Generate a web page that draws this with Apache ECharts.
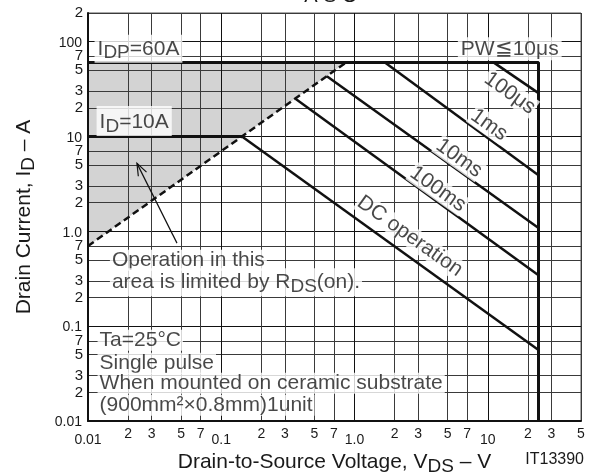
<!DOCTYPE html>
<html><head><meta charset="utf-8">
<script src="https://cdn.jsdelivr.net/npm/echarts@6/dist/echarts.min.js"></script>
<style>html,body{margin:0;padding:0;background:#fff}#c{width:601px;height:472px}</style>
</head><body><div id="c"></div>
<script>
// ---- data ----
const xTicks = [0.01,0.02,0.03,0.05,0.07,0.1,0.2,0.3,0.5,0.7,1,2,3,5,7,10,20,30,50];
const yTicks = [0.01,0.02,0.03,0.05,0.07,0.1,0.2,0.3,0.5,0.7,1,2,3,5,7,10,20,30,50,70,100,200];
const idpBoundary = [[0.01,60],[24,60],[24,0.01]];
const idLine = [[0.01,10],[0.143,10]];
const rdsLine = [[0.01,0.7],[0.86,60]];
const pw100us = [[11.1,60],[24,28.6]];
const pw1ms = [[1.69,60],[24,3.9]];
const pw10ms = [[0.62,43],[24,1.08]];
const pw100ms = [[0.36,25],[24,0.344]];
const dcLine = [[0.143,10],[24,0.056]];
const arrowLine = [[0.0465,0.75],[0.0233,5.2]];

// ---- chart ----
const FONT = 'Liberation Sans, Arial, sans-serif';
const TXT = '#1a1a1a';
function isDecade(v){ const l = Math.log10(v); return Math.abs(l - Math.round(l)) < 1e-6; }
function tickText(v){
  if (isDecade(v)) {
    if (v >= 10) return String(Math.round(v));
    if (Math.abs(v-1) < 1e-9) return '1.0';
    return String(+v.toPrecision(1));
  }
  return String(Math.round(v / Math.pow(10, Math.floor(Math.log10(v) + 1e-9))));
}
const chart = echarts.init(document.getElementById('c'), null, {renderer:'canvas'});
const sub = {fontSize:19, fontFamily:FONT, color:TXT, padding:[9,0,0,0]};
const ROT = -35.4;

function lineS(data, width, type){
  return {type:'line', data:data, symbol:'none', silent:true, z:5,
    lineStyle:{color:'#111', width:width, type:type || 'solid', cap:'butt'}};
}
function note(x, y, text, extra){
  return {value:[x,y], label:Object.assign({
    show:true, formatter:text, position:'right', distance:0,
    fontFamily:FONT, fontSize:21, color:TXT, backgroundColor:'#fff', padding:[1,3],
    rich:{s:sub}
  }, extra || {})};
}
const notes = [
  note(0.0112, 84, 'I{s|DP}=60A', {padding:[0,3,0,3]}),
  note(0.0116, 14.5, 'I{s|D}=10A', {padding:[2,3,0,3]}),
  note(14.6, 84, 'PW≦10μs', {position:'inside'}),
  note(14.6, 28.6, '100μs', {position:'inside', rotate:ROT, padding:[0,1]}),
  note(10.2, 13.2, '1ms', {position:'inside', rotate:ROT, padding:[0,1]}),
  note(6.07, 5.9, '10ms', {position:'inside', rotate:ROT, padding:[0,1]}),
  note(4.22, 2.78, '100ms', {position:'inside', rotate:ROT, padding:[0,1]}),
  note(2.6, 0.888, 'DC operation', {position:'inside', rotate:ROT, padding:[0,1]}),
  note(0.0146, 0.495, 'Operation in this', {padding:[0,2]}),
  note(0.0146, 0.29, 'area is limited by R{s|DS}(on).', {padding:[0,2]}),
  note(0.0118, 0.071, 'Ta=25°C', {padding:[0,2]}),
  note(0.0118, 0.0406, 'Single pulse', {padding:[0,2]}),
  note(0.0118, 0.025, 'When mounted on ceramic substrate', {padding:[0,2]}),
  note(0.0118, 0.01465, '(900mm²×0.8mm)1unit', {padding:[0,2]})
];

const gridColors = ['#111','#3a3a3a','#3a3a3a','#3a3a3a','#3a3a3a'];
const option = {
  animation:false,
  backgroundColor:'#fff',
  grid:{left:88, right:20, top:13, bottom:51, outerBoundsMode:'none', containLabel:false,
    show:true, borderColor:'#555', borderWidth:1, backgroundColor:'transparent'},
  xAxis:{
    type:'log', logBase:10, min:0.01, max:50,
    axisLine:{show:true, lineStyle:{color:'#111', width:2}},
    axisTick:{show:false, customValues:xTicks},
    axisLabel:{customValues:xTicks, margin:6, color:TXT, fontFamily:FONT, fontSize:14,
      formatter:function(v){ return isDecade(v) ? '{d|'+tickText(v)+'}' : tickText(v); },
      rich:{d:{fontFamily:FONT, fontSize:14, color:TXT, padding:[6,0,0,0]}}},
    splitLine:{show:true, lineStyle:{color:gridColors, width:1}},
    name:'Drain-to-Source Voltage, V{s|DS} – V', nameLocation:'middle', nameGap:23,
    nameTextStyle:{fontFamily:FONT, fontSize:21, color:TXT, rich:{s:sub}}
  },
  yAxis:{
    type:'log', logBase:10, min:0.01, max:200,
    axisLine:{show:true, lineStyle:{color:'#111', width:2}},
    axisTick:{show:false, customValues:yTicks},
    axisLabel:{customValues:yTicks, margin:5, color:TXT, fontFamily:FONT, fontSize:15,
      formatter:function(v){ return isDecade(v) ? '{d|'+tickText(v)+'}' : tickText(v); },
      rich:{d:{fontFamily:FONT, fontSize:14, color:TXT, padding:[3,1,0,0]}}},
    splitLine:{show:true, lineStyle:{color:gridColors, width:1}},
    name:'Drain Current, I{s|D} – A', nameLocation:'middle', nameGap:50,
    nameTextStyle:{fontFamily:FONT, fontSize:21, color:TXT, rich:{s:sub}}
  },
  graphic:[
    {type:'text', x:331, y:-4, silent:true, style:{text:'A S O', font:'20px '+FONT, fill:TXT, textAlign:'center', textVerticalAlign:'middle'}},
    {type:'text', x:584, y:460, silent:true, style:{text:'IT13390', font:'16px '+FONT, fill:TXT, textAlign:'right', textVerticalAlign:'middle'}}
  ],
  series:[
    {type:'custom', z:-1, silent:true, data:[rdsLine[0]],
      renderItem:function(params, api){
        const pts = [rdsLine[0], rdsLine[1], [rdsLine[0][0], rdsLine[1][1]]].map(function(p){ return api.coord(p); });
        return {type:'polygon', shape:{points:pts}, style:{fill:'#d3d3d3'}};
      }},
    lineS(rdsLine, 2.5, [7,4]),
    lineS(idpBoundary, 3),
    lineS(idLine, 3),
    lineS(pw100us, 2.5),
    lineS(pw1ms, 2.5),
    lineS(pw10ms, 2.5),
    lineS(pw100ms, 2.5),
    lineS(dcLine, 2.5),
    {type:'custom', z:6, silent:true, data:[arrowLine[1]],
      renderItem:function(params, api){
        const a = api.coord(arrowLine[0]), b = api.coord(arrowLine[1]);
        const ang = Math.atan2(b[1]-a[1], b[0]-a[0]);
        const L = 13, w = 0.36;
        const p1 = [b[0]-L*Math.cos(ang-w), b[1]-L*Math.sin(ang-w)];
        const p2 = [b[0]-L*Math.cos(ang+w), b[1]-L*Math.sin(ang+w)];
        return {type:'group', children:[
          {type:'line', shape:{x1:a[0], y1:a[1], x2:b[0], y2:b[1]}, style:{stroke:'#111', lineWidth:1.2}},
          {type:'polyline', shape:{points:[p1, b, p2]}, style:{stroke:'#111', lineWidth:1.2, fill:null}}
        ]};
      }},
    {type:'scatter', z:10, silent:true, symbolSize:0, itemStyle:{color:'transparent'}, data:notes}
  ]
};
chart.setOption(option);
</script>
</body></html>
